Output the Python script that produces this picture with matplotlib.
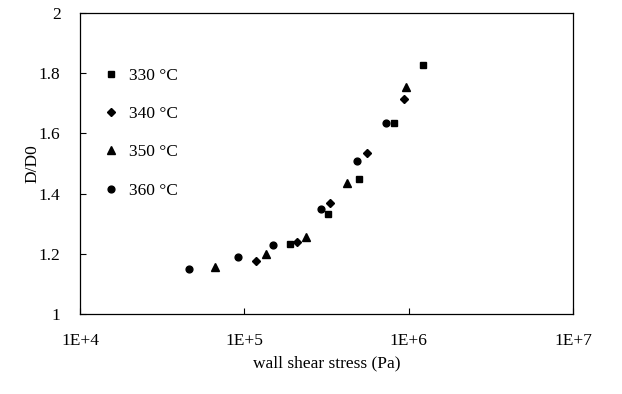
import matplotlib
matplotlib.use("Agg")
import matplotlib.pyplot as plt
from matplotlib.ticker import FixedLocator, FixedFormatter, NullLocator

plt.rcParams['font.family'] = ['Liberation Serif', 'DejaVu Serif']

# expansion ratio vs wall shear stress at four melt temperatures
stress_330 = [1.90e5, 3.23e5, 4.99e5, 8.15e5, 1.22e6]
ratio_330 = [1.233, 1.332, 1.450, 1.636, 1.827]

stress_340 = [1.18e5, 2.09e5, 3.32e5, 5.58e5, 9.38e5]
ratio_340 = [1.176, 1.239, 1.369, 1.535, 1.714]

stress_350 = [6.63e4, 1.36e5, 2.38e5, 4.22e5, 9.64e5]
ratio_350 = [1.156, 1.199, 1.256, 1.435, 1.754]

stress_360 = [4.61e4, 9.16e4, 1.50e5, 2.93e5, 4.85e5, 7.28e5]
ratio_360 = [1.150, 1.189, 1.229, 1.349, 1.508, 1.636]

series = [
    (stress_330, ratio_330, "s", 4.5, "330 °C"),
    (stress_340, ratio_340, "D", 3.9, "340 °C"),
    (stress_350, ratio_350, "^", 5.6, "350 °C"),
    (stress_360, ratio_360, "o", 4.9, "360 °C"),
]

x_ticks = [1e4, 1e5, 1e6, 1e7]
x_tick_labels = ["1E+4", "1E+5", "1E+6", "1E+7"]
y_ticks = [1, 1.2, 1.4, 1.6, 1.8, 2]
y_tick_labels = ["1", "1.2", "1.4", "1.6", "1.8", "2"]

fig = plt.figure(figsize=(6.22, 3.94), dpi=100)
ax = fig.add_axes([0.1286, 0.203, 0.7926, 0.764])

for x, y, m, ms, lab in series:
    ax.plot(x, y, linestyle="none", marker=m, markersize=ms,
            color="black", label=lab)

ax.set_xscale("log")
ax.set_xlim(1e4, 1e7)
ax.set_ylim(1, 2)
ax.xaxis.set_major_locator(FixedLocator(x_ticks))
ax.xaxis.set_major_formatter(FixedFormatter(x_tick_labels))
ax.xaxis.set_minor_locator(NullLocator())
ax.yaxis.set_major_locator(FixedLocator(y_ticks))
ax.yaxis.set_major_formatter(FixedFormatter(y_tick_labels))

ax.tick_params(axis="both", direction="in", length=4, width=0.8,
               labelsize=12.5, colors="black")
ax.tick_params(axis="y", pad=14)
ax.tick_params(axis="x", pad=14)
for s in ax.spines.values():
    s.set_linewidth(0.9)

ax.set_xlabel("wall shear stress (Pa)", fontsize=12.5, labelpad=4)
ax.set_ylabel("D/D0", fontsize=12.5, labelpad=-1)

ax.legend(loc="upper left", frameon=False, fontsize=12.5,
          bbox_to_anchor=(0.034, 0.842), handlelength=0.8,
          handletextpad=0.65, labelspacing=1.28, borderaxespad=0)

fig.savefig("out.png", dpi=100)
